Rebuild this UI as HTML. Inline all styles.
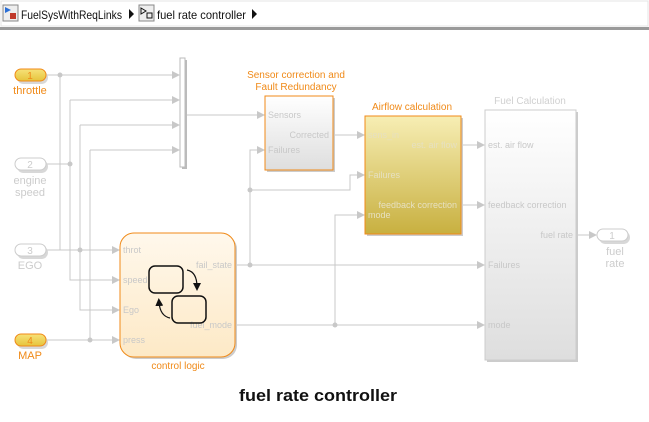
<!DOCTYPE html>
<html><head><meta charset="utf-8"><style>
body{margin:0;width:649px;height:422px;background:#fff;overflow:hidden;font-family:"Liberation Sans",sans-serif}
svg{display:block}
</style></head><body>
<svg width="649" height="422" viewBox="0 0 649 422" font-family="Liberation Sans, sans-serif">
<defs>
<linearGradient id="gw" x1="0" y1="0" x2="0" y2="1"><stop offset="0" stop-color="#fff"/><stop offset="1" stop-color="#dedede"/></linearGradient>
<linearGradient id="gy" x1="0" y1="0" x2="0" y2="1"><stop offset="0" stop-color="#f7eeb4"/><stop offset="1" stop-color="#c8b040"/></linearGradient>
<linearGradient id="gc" x1="0" y1="0" x2="0" y2="1"><stop offset="0" stop-color="#fff8ec"/><stop offset="1" stop-color="#fde9c6"/></linearGradient>
<linearGradient id="gp" x1="0" y1="0" x2="0" y2="1"><stop offset="0" stop-color="#f7e27a"/><stop offset="1" stop-color="#e6c43c"/></linearGradient>
<marker id="a" markerWidth="8" markerHeight="8" refX="7" refY="4" orient="auto" markerUnits="userSpaceOnUse"><path d="M0,0 L8,4 L0,8z" fill="#c8c8c8"/></marker>
<marker id="b" markerWidth="8" markerHeight="8" refX="4" refY="4" orient="auto" markerUnits="userSpaceOnUse"><path d="M0,0 L8,4 L0,8z" fill="#111"/></marker>
</defs>
<!-- toolbar -->
<rect x="1" y="1" width="647" height="25" fill="#fff" stroke="#e4e4e4"/>
<rect x="0" y="27" width="649" height="3" fill="#9a9a9a"/>
<rect x="3" y="5" width="15" height="16" fill="#eee" stroke="#888"/>
<path d="M5,7 L11,10 L5,13z" fill="#2a6fd6"/><rect x="10" y="13" width="6" height="6" fill="#c0392b"/>
<text x="21" y="19" font-size="12" fill="#111" textLength="101" lengthAdjust="spacingAndGlyphs">FuelSysWithReqLinks</text>
<path d="M129,9 L134,14 L129,19z" fill="#111"/>
<rect x="139" y="5" width="15" height="16" fill="#eee" stroke="#888"/>
<path d="M141,8 L146,11 L141,14z" fill="none" stroke="#111"/><rect x="147" y="13" width="5" height="5" fill="none" stroke="#111"/>
<text x="157" y="19" font-size="12" fill="#111" textLength="89" lengthAdjust="spacingAndGlyphs">fuel rate controller</text>
<path d="M252,9 L257,14 L252,19z" fill="#111"/>

<g stroke="#c8c8c8" stroke-width="1" fill="none">
<path d="M46,75 H179" marker-end="url(#a)"/>
<path d="M60,75 V250 H119" marker-end="url(#a)"/>
<path d="M70,100 H179" marker-end="url(#a)"/>
<path d="M46,164 H70"/>
<path d="M70,100 V280 H119" marker-end="url(#a)"/>
<path d="M80,125 H179" marker-end="url(#a)"/>
<path d="M46,250 H60"/>
<path d="M80,125 V310 H119" marker-end="url(#a)"/>
<path d="M90,150 H179" marker-end="url(#a)"/>
<path d="M90,150 V340"/>
<path d="M46,340 H119" marker-end="url(#a)"/>
<path d="M186,115 H264" marker-end="url(#a)"/>
<path d="M236,265 H484" marker-end="url(#a)"/>
<path d="M250,265 V150 H264" marker-end="url(#a)"/>
<path d="M250,190 H350 V175 H364" marker-end="url(#a)"/>
<path d="M236,325 H484" marker-end="url(#a)"/>
<path d="M335,325 V215 H364" marker-end="url(#a)"/>
<path d="M334,135 H364" marker-end="url(#a)"/>
<path d="M462,145 H484" marker-end="url(#a)"/>
<path d="M462,205 H484" marker-end="url(#a)"/>
<path d="M577,235 H596" marker-end="url(#a)"/>
</g>
<g fill="#c8c8c8">
<circle cx="60" cy="75" r="2.5"/><circle cx="70" cy="164" r="2.5"/><circle cx="80" cy="250" r="2.5"/><circle cx="90" cy="340" r="2.5"/>
<circle cx="250" cy="265" r="2.5"/><circle cx="250" cy="190" r="2.5"/><circle cx="335" cy="325" r="2.5"/>
</g>

<g font-size="10" text-anchor="middle">
<rect x="17" y="71" width="31" height="13" rx="6.5" fill="#d8d8d8"/>
<rect x="15" y="69" width="31" height="12" rx="6" fill="url(#gp)" stroke="#f08a18"/>
<text x="30" y="79" fill="#f08a18">1</text>
<text x="30" y="94" fill="#f08a18" font-size="11">throttle</text>
<rect x="17" y="160" width="31" height="13" rx="6.5" fill="#d8d8d8"/>
<rect x="15" y="158" width="31" height="12" rx="6" fill="#fff" stroke="#ccc"/>
<text x="30" y="168" fill="#ccc">2</text>
<text x="30" y="184" fill="#ccc" font-size="11">engine</text>
<text x="30" y="196" fill="#ccc" font-size="11">speed</text>
<rect x="17" y="246" width="31" height="13" rx="6.5" fill="#d8d8d8"/>
<rect x="15" y="244" width="31" height="12" rx="6" fill="#fff" stroke="#ccc"/>
<text x="30" y="254" fill="#ccc">3</text>
<text x="30" y="269" fill="#ccc" font-size="11">EGO</text>
<rect x="17" y="336" width="31" height="13" rx="6.5" fill="#d8d8d8"/>
<rect x="15" y="334" width="31" height="12" rx="6" fill="url(#gp)" stroke="#f08a18"/>
<text x="30" y="344" fill="#f08a18">4</text>
<text x="30" y="359" fill="#f08a18" font-size="11">MAP</text>
<rect x="599" y="231" width="31" height="13" rx="6.5" fill="#d8d8d8"/>
<rect x="597" y="229" width="31" height="12" rx="6" fill="#fff" stroke="#ccc"/>
<text x="612" y="239" fill="#ccc">1</text>
<text x="615" y="255" fill="#ccc" font-size="11">fuel</text>
<text x="615" y="267" fill="#ccc" font-size="11">rate</text>
</g>

<rect x="182" y="60" width="5" height="109" fill="#bbb"/>
<rect x="180" y="58" width="5" height="109" fill="#fff" stroke="#bbb"/>

<text x="296" y="78" font-size="10" fill="#f08a18" text-anchor="middle">Sensor correction and</text>
<text x="296" y="90" font-size="10" fill="#f08a18" text-anchor="middle">Fault Redundancy</text>
<rect x="267" y="98" width="68" height="74" fill="#ccc"/>
<rect x="265" y="96" width="68" height="74" fill="url(#gw)" stroke="#f08a18"/>
<g font-size="9" fill="#c8c8c8">
<text x="268" y="118">Sensors</text>
<text x="329" y="138" text-anchor="end">Corrected</text>
<text x="268" y="153">Failures</text>
</g>

<text x="412" y="110" font-size="10" fill="#f08a18" text-anchor="middle">Airflow calculation</text>
<rect x="367" y="118" width="96" height="118" fill="#ccc"/>
<rect x="365" y="116" width="96" height="118" fill="url(#gy)" stroke="#f08a18"/>
<g font-size="9" fill="#e6e0c0">
<text x="368" y="138">sens_in</text>
<text x="457" y="148" text-anchor="end">est. air flow</text>
<text x="368" y="178">Failures</text>
<text x="457" y="208" text-anchor="end">feedback correction</text>
<text x="368" y="218">mode</text>
</g>

<text x="530" y="104" font-size="10" fill="#d0d0d0" text-anchor="middle">Fuel  Calculation</text>
<rect x="487" y="112" width="91" height="250" fill="#ccc"/>
<rect x="485" y="110" width="91" height="250" fill="url(#gw)" stroke="#ccc"/>
<g font-size="9" fill="#c8c8c8">
<text x="488" y="148">est. air flow</text>
<text x="488" y="208">feedback correction</text>
<text x="573" y="238" text-anchor="end">fuel rate</text>
<text x="488" y="268">Failures</text>
<text x="488" y="328">mode</text>
</g>

<rect x="122" y="235" width="115" height="124" rx="14" fill="#ccc"/>
<rect x="120" y="233" width="115" height="124" rx="14" fill="url(#gc)" stroke="#f08a18"/>
<g font-size="9" fill="#c8c8c8">
<text x="123" y="253">throt</text>
<text x="123" y="283">speed</text>
<text x="123" y="313">Ego</text>
<text x="123" y="343">press</text>
<text x="232" y="268" text-anchor="end">fail_state</text>
<text x="232" y="328" text-anchor="end">fuel_mode</text>
</g>
<text x="178" y="369" font-size="10" fill="#f08a18" text-anchor="middle">control logic</text>
<rect x="149" y="266" width="34" height="27" rx="6" fill="none" stroke="#111" stroke-width="1.5"/>
<rect x="172" y="296" width="34" height="27" rx="6" fill="none" stroke="#111" stroke-width="1.5"/>
<path d="M187,270 Q197,272 197,287" fill="none" stroke="#111" stroke-width="1.2" marker-end="url(#b)"/>
<path d="M170,318 Q160,316 159,302" fill="none" stroke="#111" stroke-width="1.2" marker-end="url(#b)"/>

<text x="318" y="401" font-size="17" font-weight="bold" fill="#111" text-anchor="middle" textLength="158" lengthAdjust="spacingAndGlyphs">fuel rate controller</text>
</svg>
</body></html>
